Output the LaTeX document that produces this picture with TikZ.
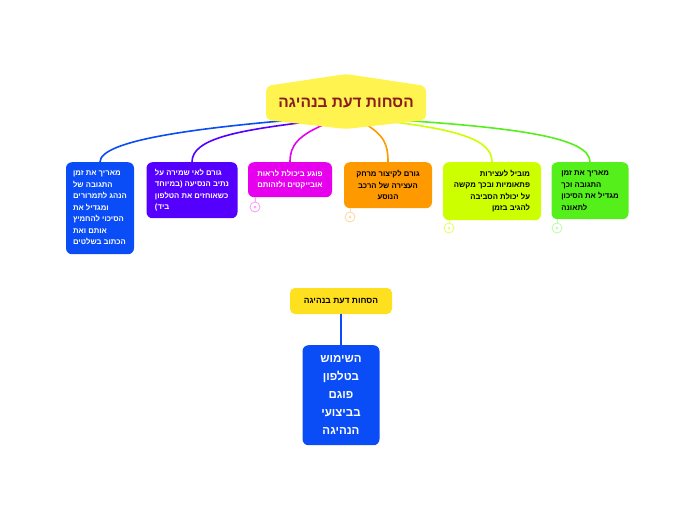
\documentclass[tikz,border=0pt]{standalone}
\usepackage{fontspec}
\setmainfont{Liberation Sans}
\newfontfamily\hebfont[Script=Hebrew]{Liberation Sans}
\TeXXeTstate=1
\newcommand{\rtline}[1]{\beginR #1\endR}

\definecolor{titlefill}{HTML}{FFF44F}
\definecolor{titletext}{HTML}{8A1C1C}
\definecolor{subfill}{HTML}{FFE01E}
\definecolor{cblue}{HTML}{0A4CF5}
\definecolor{cpurple}{HTML}{5500FF}
\definecolor{cmagenta}{HTML}{E600EE}
\definecolor{corange}{HTML}{FF9900}
\definecolor{clime}{HTML}{CCFF00}
\definecolor{cgreen}{HTML}{55F01C}

\tikzset{
  topic/.style={fill=#1, rounded corners=6pt, inner sep=4pt, anchor=north,
    font=\hebfont\bfseries\fontsize{7.7}{11.5}\selectfont},
  link/.style={line width=1.6pt},
  fold/.style={circle, draw=#1, fill=white, line width=0.9pt, minimum size=10pt, inner sep=0pt,
    path picture={\fill[#1] (path picture bounding box.center) circle (1.5pt);}},
}

\begin{document}
\begin{tikzpicture}[x=1pt, y=-1pt]
    \useasboundingbox (0,0) rectangle (697,520);

    % Unterthemen
    \node[topic=cblue, text=white, align=left, minimum width=68pt, minimum height=92pt] (b1) at (100,162)
        {\rtline{מאריך את זמן}\\ \rtline{התגובה של}\\ \rtline{הנהג לתמרורים}\\ \rtline{ומגדיל את}\\ \rtline{הסיכוי להחמיץ}\\ \rtline{אותם ואת}\\ \rtline{הכתוב בשלטים}};
    \node[topic=cpurple, text=white, align=left, minimum width=91pt, minimum height=56pt] (b2) at (192,162)
        {\rtline{גורם לאי שמירה על}\\ \rtline{נתיב הנסיעה (במיוחד}\\ \rtline{כשאוחזים את הטלפון}\\ \rtline{ביד)}};
    \node[topic=cmagenta, text=white, align=right, minimum width=84pt, minimum height=35pt] (b3) at (290,162)
        {\rtline{פוגע ביכולת לראות}\\ \rtline{אובייקטים ולזהותם}};
    \node[topic=corange, align=center, minimum width=88pt, minimum height=46pt] (b4) at (388,162)
        {\rtline{גורם לקיצור מרחק}\\ \rtline{העצירה של הרכב}\\ \rtline{הנוסע}};
    \node[topic=clime, align=right, minimum width=98pt, minimum height=58pt] (b5) at (492,162)
        {\rtline{מוביל לעצירות}\\ \rtline{פתאומיות ובכך מקשה}\\ \rtline{על יכולת הסביבה}\\ \rtline{להגיב בזמן}};
    \node[topic=cgreen, align=left, minimum width=77pt, minimum height=57pt] (b6) at (590,162)
        {\rtline{מאריך את זמן}\\ \rtline{התגובה וכך}\\ \rtline{מגדיל את הסיכון}\\ \rtline{לתאונה}};

    % Klapp-Kreise
    \node[fold=cmagenta!35] (f3) at (255,207) {};
    \node[fold=corange!35] (f4) at (350,217) {};
    \node[fold=clime!55!white] (f5) at (449,228) {};
    \node[fold=cgreen!35] (f6) at (557,228) {};
    \draw[cmagenta!35, line width=0.9pt] (f3.north) -- (f3.north |- b3.south);
    \draw[corange!35, line width=0.9pt] (f4.north) -- (f4.north |- b4.south);
    \draw[clime!55!white, line width=0.9pt] (f5.north) -- (f5.north |- b5.south);
    \draw[cgreen!35, line width=0.9pt] (f6.north) -- (f6.north |- b6.south);

    % Verbindungen vom Hauptthema
    \coordinate (s1) at (292,120);
    \coordinate (s2) at (315,121);
    \coordinate (s3) at (330,122);
    \coordinate (s4) at (362,122);
    \coordinate (s5) at (386,121);
    \coordinate (s6) at (398,120);
    \draw[link, cblue] (s1) .. controls (200,128) and (100,140) .. (b1.north);
    \draw[link, cpurple] (s2) .. controls (240,130) and (192,138) .. (b2.north);
    \draw[link, cmagenta] (s3) .. controls (298,135) and (290,145) .. (b3.north);
    \draw[link, corange] (s4) .. controls (385,135) and (388,145) .. (b4.north);
    \draw[link, clime] (s5) .. controls (460,130) and (492,140) .. (b5.north);
    \draw[link, cgreen] (s6) .. controls (520,128) and (590,138) .. (b6.north);

    % Hauptthema
    \fill[titlefill, rounded corners=5pt] (266,86) -- (346,74) -- (426,86) -- (426,120) -- (346,129) -- (266,120) -- cycle;
    \node[text=titletext, font=\hebfont\bfseries\fontsize{15.5}{18}\selectfont] (title) at (346,103) {\rtline{הסחות דעת בנהיגה}};

    % zweiter Baum
    \node[fill=subfill, rounded corners=5pt, minimum width=102pt, minimum height=26pt,
        font=\hebfont\bfseries\fontsize{8.5}{10}\selectfont] (sub) at (341,301) {\rtline{הסחות דעת בנהיגה}};
    \node[fill=cblue, text=white, rounded corners=6pt, anchor=north, align=center, minimum width=77pt, minimum height=100pt,
        font=\hebfont\bfseries\fontsize{11.5}{18}\selectfont] (main) at (341,345)
        {\rtline{השימוש}\\ \rtline{בטלפון}\\ \rtline{פוגם}\\ \rtline{בביצועי}\\ \rtline{הנהיגה}};
    \draw[cblue, line width=1.2pt] (sub.south) -- (main.north);
\end{tikzpicture}
\end{document}
